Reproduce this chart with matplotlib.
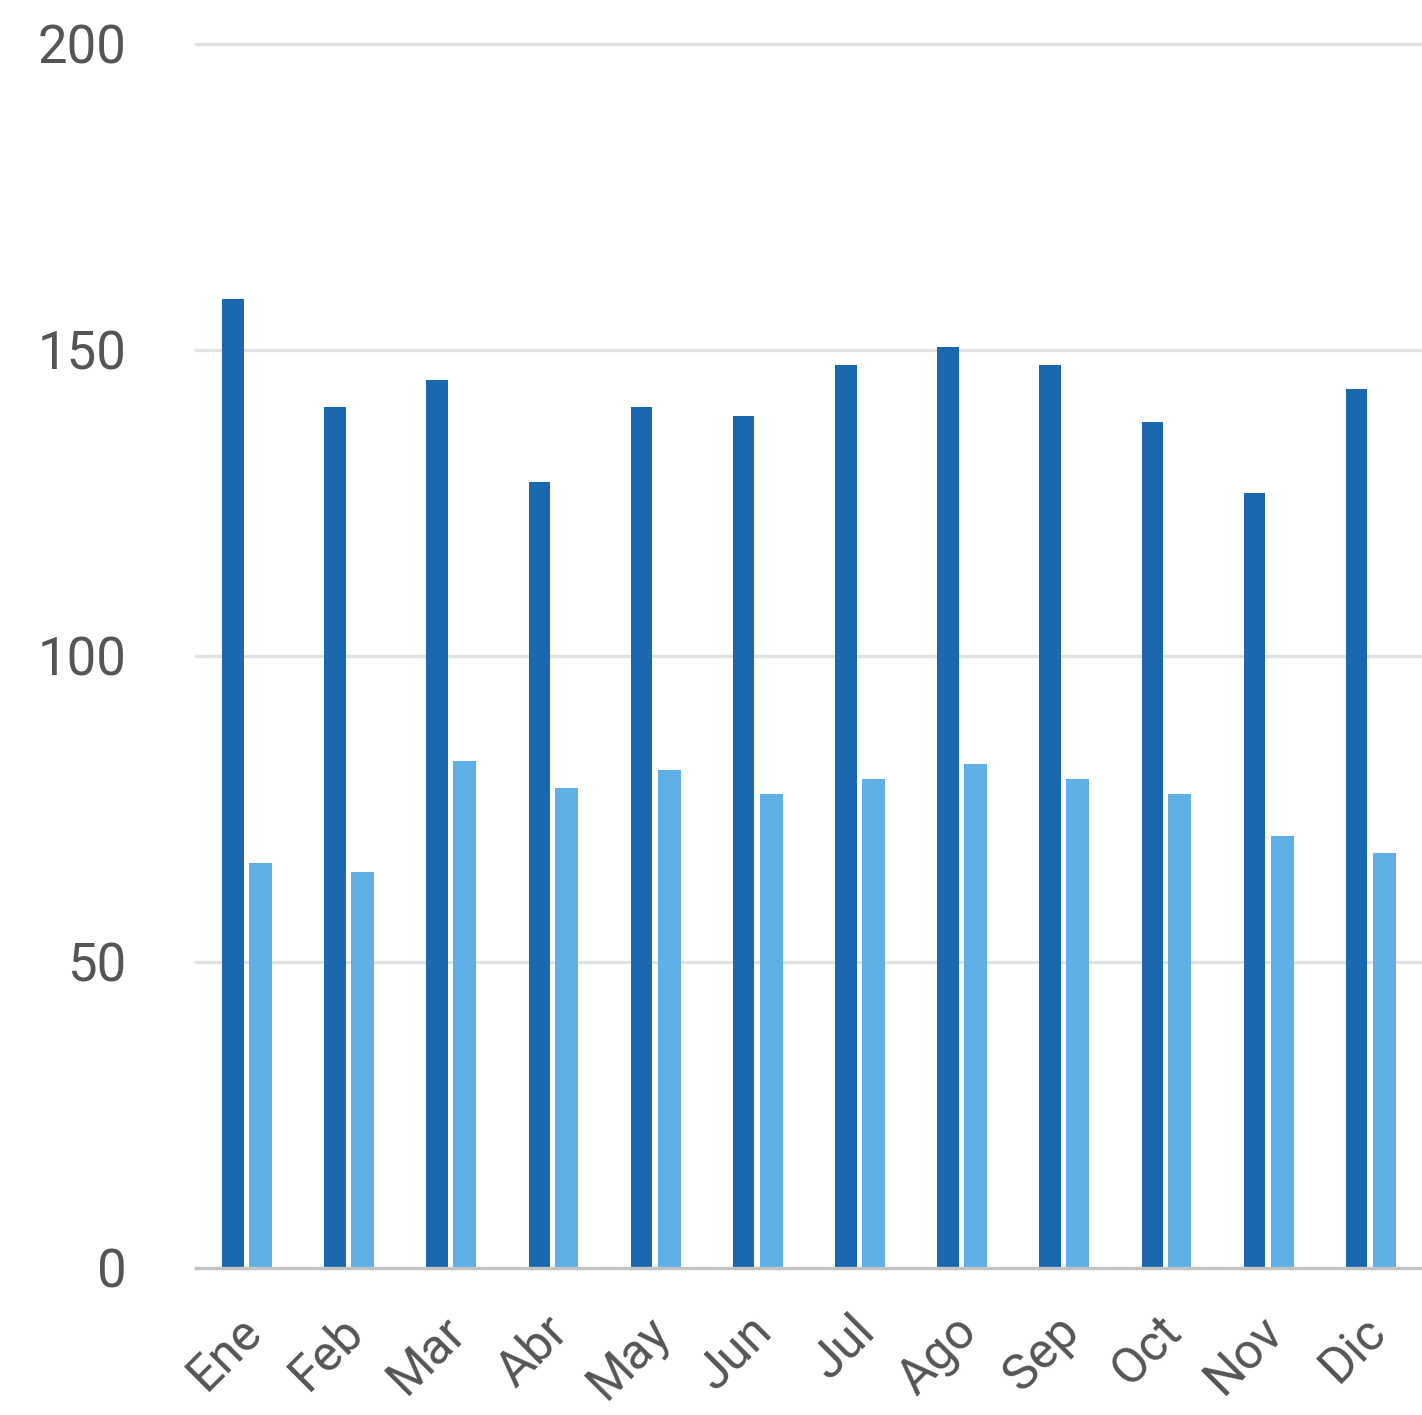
import matplotlib
matplotlib.use("Agg")
import matplotlib.pyplot as plt
import matplotlib.transforms as mtransforms
import numpy as np

months = ["Ene", "Feb", "Mar", "Abr", "May", "Jun", "Jul", "Ago", "Sep", "Oct", "Nov", "Dic"]
series_dark = [158.3, 140.7, 145.1, 128.4, 140.7, 139.2, 147.5, 150.5, 147.5, 138.2, 126.6, 143.6]
series_light = [66.2, 64.7, 82.8, 78.4, 81.4, 77.5, 79.9, 82.4, 79.9, 77.5, 70.6, 67.8]
yticks = [0, 50, 100, 150, 200]

plt.rcParams['font.family'] = ['Roboto', 'DejaVu Sans']

fig = plt.figure(figsize=(14.22, 14.15), dpi=100)
ax = fig.add_axes([196/1422, 1 - 1268/1415, 1 - 196/1422, (1268 - 44)/1415])

x = np.arange(len(months))
w = 0.21
ax.bar(x - 0.14, series_dark, width=w, color="#1a68b0", zorder=3)
ax.bar(x + 0.13, series_light, width=0.225, color="#5eb0e6", zorder=3)

ax.set_xlim(-0.5, len(months) - 0.5)
ax.set_ylim(0, 200)
ax.set_yticks(yticks)
for t in yticks[1:]:
    ax.axhline(t, color="#e2e2e2", lw=2.4, zorder=1, clip_on=False)
ax.axhline(0, color="#c2c2c2", lw=2.4, zorder=4, clip_on=False)

for s in ax.spines.values():
    s.set_visible(False)
ax.tick_params(axis='both', length=0, colors="#555555")
ax.tick_params(axis='y', labelsize=38, pad=50)
ax.set_yticklabels([str(t) for t in yticks], ha='right')
ax.set_xticks(x)
ax.set_xticklabels(months, rotation=45, ha='right', va='top', rotation_mode='anchor', fontsize=36)
ax.tick_params(axis='x', pad=28)
offset = mtransforms.ScaledTranslation(-0.1, 0, fig.dpi_scale_trans)
for lbl in ax.get_xticklabels():
    lbl.set_transform(lbl.get_transform() + offset)

fig.savefig("out.png", dpi=100, facecolor="white")
